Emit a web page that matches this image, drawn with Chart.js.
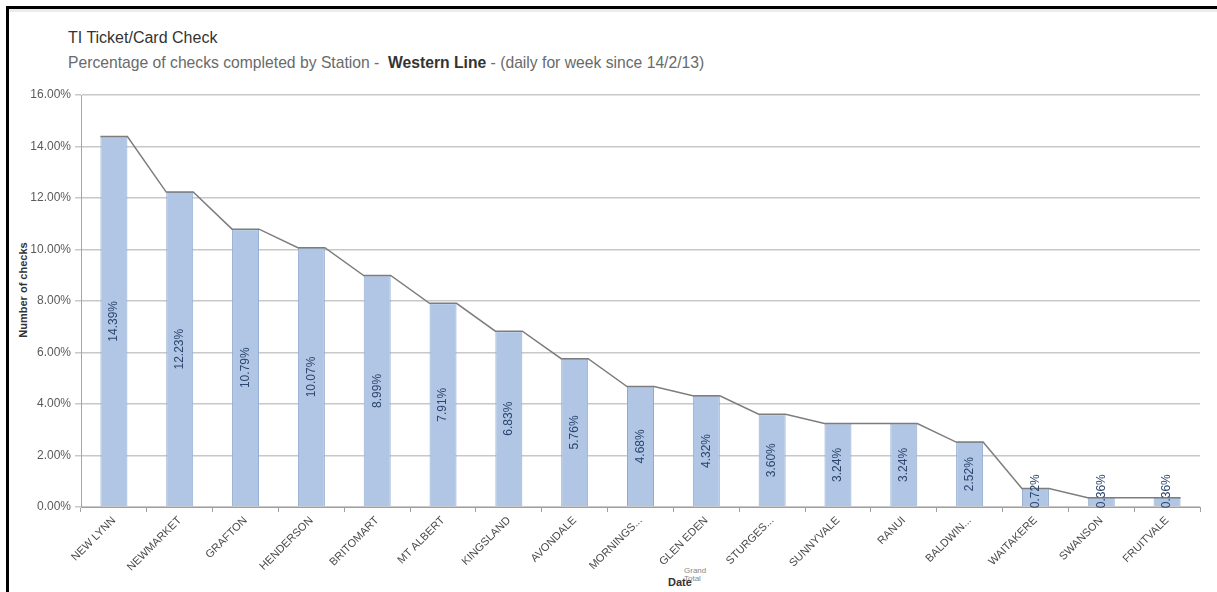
<!DOCTYPE html>
<html>
<head>
<meta charset="utf-8">
<script src="https://cdn.jsdelivr.net/npm/chart.js@4.4.1/dist/chart.umd.min.js"></script>
<style>
  body { margin: 0; background: #fff; font-family: 'Liberation Sans', Arial, sans-serif; }
  .wrap { position: relative; width: 1217px; height: 592px; overflow: hidden; }
  .frame { position: absolute; left: 6px; top: 6px; width: 1211px; height: 586px; border-left: 3px solid #000; border-top: 3px solid #000; box-sizing: border-box; }
  .shade { position: absolute; left: 9px; top: 9px; width: 1208px; height: 3px; background: #ececec; }
  .title { position: absolute; left: 68px; top: 29px; font-size: 16px; color: #333; }
  .subtitle { position: absolute; left: 68px; top: 54px; font-size: 15.7px; color: #6a6a6a; white-space: pre; }
  .subtitle b { color: #333; }
  .ytitle { position: absolute; left: 23px; top: 290px; font-size: 11px; font-weight: bold; color: #333; transform: translate(-50%, -50%) rotate(-90deg); white-space: nowrap; }
  .xtitle { position: absolute; left: 668px; top: 576px; font-size: 11px; font-weight: bold; color: #333; }
  .gt { position: absolute; left: 684px; top: 567px; font-size: 8px; line-height: 8px; color: #888; }
  canvas { position: absolute; left: 0; top: 0; }
</style>
</head>
<body>
<div class="wrap">
  <div class="shade"></div>
  <div class="frame"></div>
  <div class="title">TI Ticket/Card Check</div>
  <div class="subtitle">Percentage of checks completed by Station -  <b>Western Line</b> - (daily for week since 14/2/13)</div>
  <div class="ytitle">Number of checks</div>
  <div class="gt">Grand<br>Total</div>
  <div class="xtitle">Date</div>
  <canvas id="chart" width="1217" height="592"></canvas>
</div>
<script>
let stations = ['NEW LYNN', 'NEWMARKET', 'GRAFTON', 'HENDERSON', 'BRITOMART', 'MT ALBERT', 'KINGSLAND',
  'AVONDALE', 'MORNINGS...', 'GLEN EDEN', 'STURGES...', 'SUNNYVALE', 'RANUI', 'BALDWIN...',
  'WAITAKERE', 'SWANSON', 'FRUITVALE'];
let percents = [14.39, 12.23, 10.79, 10.07, 8.99, 7.91, 6.83, 5.76, 4.68, 4.32, 3.60, 3.24, 3.24, 2.52, 0.72, 0.36, 0.36];
let yTicks = [0, 2, 4, 6, 8, 10, 12, 14, 16];

const barPct = 0.41;
const font = "'Liberation Sans', Arial, sans-serif";

// line runs along the top of each bar, then down to the next one
let outline = [];
percents.forEach((v, i) => {
  outline.push({ x: i - barPct / 2, y: v });
  outline.push({ x: i + barPct / 2, y: v });
});

const barLabels = {
  id: 'barLabels',
  afterDatasetsDraw(chart) {
    const ctx = chart.ctx;
    const meta = chart.getDatasetMeta(0);
    ctx.save();
    ctx.font = '12px ' + font;
    ctx.fillStyle = '#2b4670';
    ctx.textAlign = 'center';
    ctx.textBaseline = 'middle';
    meta.data.forEach((bar, i) => {
      const text = percents[i].toFixed(2) + '%';
      const w = ctx.measureText(text).width;
      let cy = (bar.y + bar.base) / 2;
      if (cy > bar.base - w / 2 + 2) cy = bar.base - w / 2 + 2;
      ctx.save();
      ctx.translate(bar.x, cy);
      ctx.rotate(-Math.PI / 2);
      ctx.fillText(text, 0, 0);
      ctx.restore();
    });
    ctx.restore();
  },
};

let ctx = document.getElementById('chart').getContext('2d');
const data = {
  labels: stations,
  datasets: [
    {
      type: 'bar',
      label: 'Grand Total',
      data: percents,
      backgroundColor: '#b1c6e5',
      borderColor: '#91aad0',
      borderWidth: 1,
      barPercentage: barPct,
      categoryPercentage: 1,
      grouped: false,
      order: 2,
    },
    {
      type: 'line',
      label: 'Outline',
      data: outline,
      xAxisID: 'x2',
      borderColor: '#7d7d7d',
      borderWidth: 1.5,
      pointRadius: 0,
      tension: 0,
      fill: false,
      order: 1,
    },
  ],
};
const config = {
  data: data,
  options: {
    responsive: false,
    animation: false,
    layout: { padding: { left: 8, top: 95, right: 17, bottom: 0 } },
    plugins: {
      legend: { display: false },
      tooltip: { enabled: false },
    },
    scales: {
      x: {
        type: 'category',
        grid: { drawOnChartArea: false, drawTicks: true, tickLength: 5, color: '#a0a0a0' },
        border: { color: '#a0a0a0', width: 1 },
        ticks: {
          maxRotation: 45,
          minRotation: 45,
          autoSkip: false,
          padding: 2,
          color: '#4a4a4a',
          font: { family: font, size: 11 },
        },
        afterFit: (scale) => { scale.height = 85; },
      },
      x2: {
        type: 'linear',
        display: false,
        min: -0.5,
        max: stations.length - 0.5,
      },
      y: {
        min: yTicks[0],
        max: yTicks[yTicks.length - 1],
        afterBuildTicks: (scale) => { scale.ticks = yTicks.map((v) => ({ value: v })); },
        grid: { color: '#c8c8c8', lineWidth: 1.5, tickLength: 6 },
        border: { color: '#a6a6a6', width: 1 },
        ticks: {
          padding: 4,
          color: '#5a5a5a',
          font: { family: font, size: 12 },
          callback: (v) => v.toFixed(2) + '%',
        },
        afterFit: (scale) => { scale.width = 73; },
      },
    },
  },
  plugins: [barLabels],
};
new Chart(ctx, config);
</script>
</body>
</html>
